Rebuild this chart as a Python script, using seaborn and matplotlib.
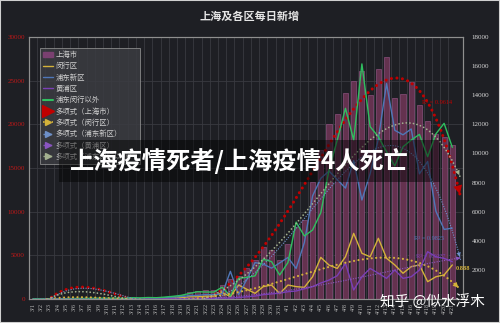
import numpy as np
import pandas as pd
import matplotlib
matplotlib.use('Agg')
import matplotlib.pyplot as plt
import seaborn as sns
from matplotlib.patches import Patch, Rectangle
from matplotlib.lines import Line2D

# daily new cases 3/1 - 4/21
dates = ['3/1', '3/2', '3/3', '3/4', '3/5', '3/6', '3/7', '3/8', '3/9', '3/10',
         '3/11', '3/12', '3/13', '3/14', '3/15', '3/16', '3/17', '3/18', '3/19', '3/20',
         '3/21', '3/22', '3/23', '3/24', '3/25', '3/26', '3/27', '3/28', '3/29', '3/30',
         '3/31', '4/1', '4/2', '4/3', '4/4', '4/5', '4/6', '4/7', '4/8', '4/9',
         '4/10', '4/11', '4/12', '4/13', '4/14', '4/15', '4/16', '4/17', '4/18', '4/19',
         '4/20', '4/21']
shanghai = [2, 8, 16, 19, 28, 48, 55, 65, 80, 75,
            83, 65, 169, 139, 202, 158, 260, 374, 509, 758,
            896, 981, 983, 1609, 2269, 2676, 3500, 4477, 5982, 5653,
            4502, 6311, 8226, 9006, 13354, 17077, 19982, 21222, 23624, 24943,
            26087, 23342, 26330, 27719, 23072, 23513, 24820, 22248, 20416, 18901,
            18495, 17629]
minhang = [0, 1, 2, 2, 3, 5, 5, 5, 8, 8,
           10, 5, 20, 15, 30, 20, 40, 60, 90, 150,
           150, 200, 200, 450, 160, 960, 670, 390, 850, 960,
           370, 960, 850, 800, 1530, 2860, 2330, 2100, 2900, 4510,
           3140, 2900, 4170, 2800, 2340, 1770, 2220, 2340, 1190, 1530,
           1650, 2340]
pudong = [1, 3, 5, 5, 8, 10, 12, 15, 20, 15,
          20, 20, 60, 50, 70, 50, 90, 130, 170, 230,
          250, 300, 300, 350, 1900, 300, 1340, 2500, 2400, 2120,
          2480, 2850, 2100, 3880, 7080, 8290, 8790, 8200, 7620, 9510,
          6800, 8600, 11000, 14800, 11590, 11280, 11680, 8600, 9450, 6030,
          4780, 4870]
huangpu = [0, 0, 1, 1, 2, 3, 3, 3, 5, 5,
           0, 0, 5, 5, 10, 5, 10, 15, 20, 30,
           40, 40, 50, 60, 60, 100, 150, 200, 300, 350,
           400, 500, 550, 700, 850, 1100, 1300, 1600, 2450, 620,
           1530, 2100, 1770, 1420, 1990, 1420, 1530, 1990, 3250, 2900,
           2790, 2560]
others = [1, 4, 9, 12, 17, 33, 38, 45, 52, 52,
          53, 40, 89, 74, 102, 88, 130, 184, 249, 378,
          500, 480, 480, 810, 210, 1420, 1490, 1590, 2730, 2570,
          1650, 2500, 5280, 4330, 4740, 5930, 8860, 10920, 13100, 10920,
          16150, 11840, 11150, 10120, 9140, 10460, 10920, 11310, 9780, 11340,
          12070, 10420]
r2_labels = ['R² = 0.9614', 'R² = 0.9825', 'R² = 0.9??7', '0.888']

df = pd.DataFrame({'date': dates, 'sh': shanghai, 'mh': minhang,
                   'pd': pudong, 'hp': huangpu, 'ot': others})
n = len(df)
xs = np.arange(n)

BG = '#1e1f24'
GRID = '#393a40'
SPINE = '#8f8f8f'
RED = '#c00000'
YEL = '#d4b23a'
BLU = '#4f77b8'
PUR = '#7a3fb5'
GRN = '#2fbf5f'
GTR = '#a3b08f'

sns.set_theme(style='dark')
plt.rcParams['font.family'] = ['Noto Sans CJK SC', 'DejaVu Sans']

fig = plt.figure(figsize=(5, 3.23), dpi=100, facecolor=BG)
ax = fig.add_axes([29/500, 1-299/323, (463-29)/500, (299-37)/323])
ax.set_facecolor(BG)

sns.barplot(data=df, x='date', y='sh', ax=ax, color='#64324f', saturation=1,
            width=0.62, edgecolor='#8a4f7c', linewidth=0.5, zorder=2)

ax2 = ax.twinx()
for col, c in [('mh', YEL), ('pd', BLU), ('hp', PUR), ('ot', GRN)]:
    sns.lineplot(x=xs, y=df[col].values, ax=ax2, color=c, lw=1.0, zorder=3)

# polynomial trendlines (order 4, forecast one period forward)
xx = np.linspace(0, n, 300)
def trend(axis, vals, color, lw, dash, arrow_scale, order=4):
    p = np.polynomial.Polynomial.fit(xs, vals, order)
    yy = p(xx)
    axis.plot(xx, yy, color=color, lw=lw, linestyle=(0, dash),
              dash_capstyle='round', zorder=4)
    axis.annotate('', xy=(xx[-1], yy[-1]), xytext=(xx[-4], yy[-4]),
                  arrowprops=dict(arrowstyle='-|>', color=color, lw=0,
                                  mutation_scale=arrow_scale), zorder=5)

trend(ax, df['sh'].values, RED, 2.2, (0.01, 1.8), 16)
trend(ax2, df['mh'].values, YEL, 1.6, (0.01, 2.0), 10)
trend(ax2, df['pd'].values, '#6d8fc7', 1.0, (0.01, 1.8), 8)
trend(ax2, df['hp'].values, '#8a55c0', 1.0, (0.01, 1.8), 8)
trend(ax2, df['ot'].values, GTR, 1.3, (0.01, 2.0), 9)

ax.set_xlim(-0.3, 52.3)
ax.set_ylim(0, 30000)
ax2.set_ylim(0, 18000)
ax.set_yticks(range(0, 30001, 5000))
ax2.set_yticks(range(0, 18001, 2000))
ax.set_xticks(xs)
ax.set_xticklabels(dates, rotation=90, fontsize=4.5, color='#b5b5b5',
                   family='Liberation Serif')
ax.set_yticklabels([str(v) for v in range(0, 30001, 5000)], fontsize=5,
                   color='#c01818', family='Liberation Serif')
ax2.set_yticklabels([str(v) for v in range(0, 18001, 2000)], fontsize=5,
                    color='#d9d9d9', family='Liberation Serif')
ax.set_xlabel('')
ax.set_ylabel('')
ax2.set_ylabel('')
ax.tick_params(axis='both', length=0, pad=3)
ax2.tick_params(axis='y', length=0, pad=6)

ax.set_xticks(xs - 0.5, minor=True)
ax.grid(axis='x', which='minor', color=GRID, lw=0.6)
ax.grid(axis='y', which='major', color=GRID, lw=0.6)
ax.grid(axis='x', which='major', visible=False)
ax.set_axisbelow(True)
for a in (ax, ax2):
    for s in a.spines.values():
        s.set_color(SPINE)
        s.set_linewidth(0.8)
        s.set_visible(True)

# legend
handles = [Patch(facecolor='#7a4070', edgecolor='#7a4070'),
           Line2D([0], [0], color=YEL, lw=1),
           Line2D([0], [0], color=BLU, lw=1),
           Line2D([0], [0], color=PUR, lw=1),
           Line2D([0], [0], color=GRN, lw=1.5),
           Line2D([0], [0], color=RED, lw=1.5, ls=':', marker='>', markersize=8),
           Line2D([0], [0], color=YEL, lw=1.2, ls=':', marker='>', markersize=5),
           Line2D([0], [0], color='#6d8fc7', lw=1, ls=':', marker='>', markersize=4),
           Line2D([0], [0], color='#8a55c0', lw=1, ls=':', marker='>', markersize=4),
           Line2D([0], [0], color=GTR, lw=1, ls=':', marker='>', markersize=5)]
labels = ['上海市', '闵行区', '浦东新区', '黄浦区', '浦东闵行以外',
          '多项式（上海市）', '多项式（闵行区）', '多项式（浦东新区）',
          '多项式（黄浦区）', '多项式（浦东闵行以外）']
leg = ax2.legend(handles, labels, loc='upper left',
                 bbox_to_anchor=(40/500, 1-48/323), bbox_transform=fig.transFigure,
                 fontsize=5.3, labelcolor='#d0d0d0', frameon=True,
                 facecolor='#3b3c41', edgecolor='#9a9a9a', framealpha=0.85,
                 handlelength=1.3, handletextpad=0.4, labelspacing=0.45,
                 borderpad=0.4, borderaxespad=0, fancybox=False)
leg.get_frame().set_linewidth(0.6)
leg.set_zorder(6)

# R² labels
fig.text(422/500, 1-103/323, r2_labels[0], color=RED, fontsize=4.5,
         family='Liberation Serif', va='center')
fig.text(414/500, 1-238/323, r2_labels[1], color=BLU, fontsize=4.5,
         family='Liberation Serif', va='center')
fig.text(416/500, 1-257/323, r2_labels[2], color=PUR, fontsize=4.5,
         family='Liberation Serif', va='center')
fig.text(456/500, 1-269/323, r2_labels[3], color=YEL, fontsize=4.5,
         family='Liberation Serif', va='center', weight='bold')

# title
fig.text(0.5, 1-16/323, '上海及各区每日新增', ha='center', va='center',
         fontsize=8, weight='bold', color='#e6e6e6')

# overlay caption band
fig.add_artist(Rectangle((59/500, 1-182/323), (440-59)/500, 42/323,
                         transform=fig.transFigure, facecolor='black',
                         alpha=0.45, edgecolor='none', zorder=10))
fig.text(70/500, 1-161/323, '上海疫情死者/上海疫情4人死亡', ha='left', va='center',
         fontsize=17.5, weight='bold', color='white', zorder=11)
fig.text(380/500, 1-302/323, '知乎 @似水浮木', ha='left', va='center',
         fontsize=10.5, color='white', zorder=11)

fig.add_artist(Rectangle((0, 0), 1, 1, transform=fig.transFigure, fill=False,
                         edgecolor='#cfcfcf', lw=1.5, zorder=12))

fig.savefig('out.png', dpi=100, facecolor=BG)
